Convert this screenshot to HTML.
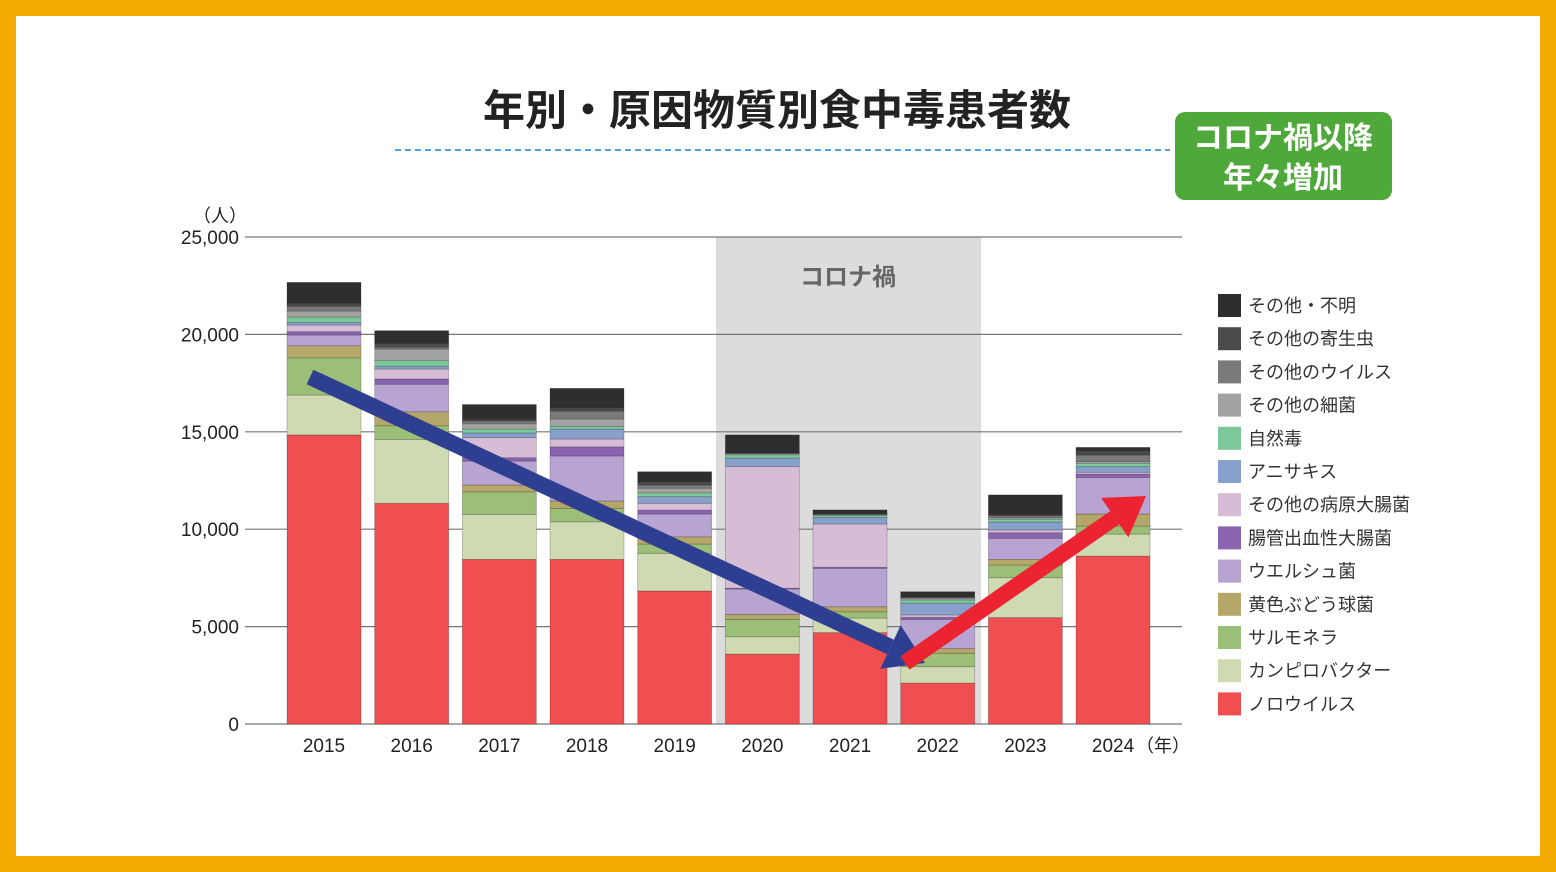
<!DOCTYPE html>
<html><head><meta charset="utf-8"><style>
body{margin:0;width:1556px;height:872px;background:#f2a900;font-family:"Liberation Sans","Noto Sans CJK JP",sans-serif;overflow:hidden}
#card{position:absolute;left:16px;top:16px;width:1524px;height:840px;background:#fff}
</style></head><body>
<div id="card"></div>
<svg id="chart" width="1556" height="872" style="position:absolute;left:0;top:0" font-family="Liberation Sans, Noto Sans CJK JP, sans-serif">
<text x="777" y="125" text-anchor="middle" font-size="42" font-weight="bold" fill="#222">年別・原因物質別食中毒患者数</text>
<line x1="395" y1="150" x2="1170" y2="150" stroke="#2a8ad0" stroke-opacity="0.8" stroke-width="2" stroke-dasharray="6,4"/>
<rect x="1175" y="112" width="217" height="88" rx="10" fill="#4fa93a"/>
<text x="1283" y="148" text-anchor="middle" font-size="30" font-weight="bold" fill="#fff">コロナ禍以降</text>
<text x="1283" y="188" text-anchor="middle" font-size="30" font-weight="bold" fill="#fff">年々増加</text>
<g id="plot"></g>
</svg>
<script>
const years=['2015','2016','2017','2018','2019','2020','2021','2022','2023','2024'];
const seriesNames=['ノロウイルス','カンピロバクター','サルモネラ','黄色ぶどう球菌','ウエルシュ菌','腸管出血性大腸菌','その他の病原大腸菌','アニサキス','自然毒','その他の細菌','その他のウイルス','その他の寄生虫','その他・不明'];
const noro=[14840,11330,8450,8450,6830,3590,4690,2100,5460,8620];
const campy=[2050,3280,2310,1930,1930,890,750,840,2050,1130];
const salm=[1910,700,1160,690,480,890,320,690,650,410];
const staph=[620,720,350,380,370,260,260,240,290,620];
const welch=[550,1410,1230,2310,1170,1300,1970,1500,1080,1880];
const ehec=[170,270,170,470,200,40,60,110,290,170];
const otherEcoli=[340,510,1030,400,350,6250,2220,120,140,90];
const anisakis=[140,140,240,510,340,430,340,600,410,290];
const toxin=[270,310,200,140,200,170,100,170,140,170];
const bacteria=[310,580,270,380,230,60,40,90,90,90];
const virus=[240,100,140,410,170,30,30,40,100,340];
const parasite=[170,190,110,170,170,30,30,40,60,220];
const other=[1060,650,740,990,510,900,180,250,1000,170];
const yTicks=[0,5000,10000,15000,20000,25000];
const series=[noro,campy,salm,staph,welch,ehec,otherEcoli,anisakis,toxin,bacteria,virus,parasite,other];
const colors=['#f04e50','#cfd9b2','#9bbf76','#b5a76a','#b8a4d2','#8a64b0','#d7bcd6','#87a0cc','#7ec79a','#a3a3a3','#7a7a7a','#4a4a4a','#2e2e2e'];
const ns='http://www.w3.org/2000/svg';
const g=document.getElementById('plot');
const X0=245,X1=1182,Y0=724,Y1=237,YMAX=25000;
const y=v=>Y0-(v/YMAX)*(Y0-Y1);
const step=87.67;
const xc=i=>324+i*step;
function el(t,a){const e=document.createElementNS(ns,t);for(const k in a)e.setAttribute(k,a[k]);g.appendChild(e);return e;}
let r=el('rect',{x:716,y:Y1,width:265,height:Y0-Y1,fill:'#dcdcdc'});


let t=el('text',{x:848,y:285,'text-anchor':'middle','font-size':24,'font-weight':'bold',fill:'#666'});t.textContent='コロナ禍';


yTicks.forEach(v=>{
  let l=el('line',{x1:X0,x2:X1,y1:y(v),y2:y(v),stroke:'#777','stroke-width':1.2});
  
  
  let tt=el('text',{x:239,y:y(v)+7,'text-anchor':'end','font-size':19,fill:'#222'});tt.textContent=v.toLocaleString('en-US');
  
  
});
t=el('text',{x:220,y:222,'text-anchor':'middle','font-size':18,fill:'#222'});t.textContent='（人）';


years.forEach((yr,i)=>{
  let base=0;
  series.forEach((s,k)=>{
    let b=el('rect',{x:xc(i)-37,width:74,y:y(base+s[i]),height:y(base)-y(base+s[i]),fill:colors[k],stroke:'rgba(0,0,0,0.25)','stroke-width':0.8});
    
    
    base+=s[i];
  });
  let tx=el('text',{x:xc(i),y:752,'text-anchor':'middle','font-size':19,fill:'#222'});tx.textContent=yr;
  
  
});
t=el('text',{x:1163,y:752,'text-anchor':'middle','font-size':18,fill:'#222'});t.textContent='（年）';


for(let k=12;k>=0;k--){
  const j=12-k, yy=294+j*33.2;
  let s=el('rect',{x:1218,y:yy,width:23,height:23,fill:colors[k]});
  
  
  let lt=el('text',{x:1248,y:yy+18,'font-size':18,fill:'#333'});lt.textContent=seriesNames[k];
  
  
}
function arrow(x1,y1,x2,y2,c,name){
  const a=Math.atan2(y2-y1,x2-x1),L=38,W=24;
  const bx=x2-L*Math.cos(a),by=y2-L*Math.sin(a);
  let ln=el('line',{x1:x1,y1:y1,x2:bx,y2:by,stroke:c,'stroke-width':16});
  
  
  const px=-Math.sin(a)*W,py=Math.cos(a)*W;
  let p=el('polygon',{points:`${x2},${y2} ${bx+px},${by+py} ${bx-px},${by-py}`,fill:c});
  
  
}
arrow(310,377,925,663,'#2e3f92','decline-arrow');
arrow(905,663,1146,496,'#ec2330','increase-arrow');
</script>
</body></html>
